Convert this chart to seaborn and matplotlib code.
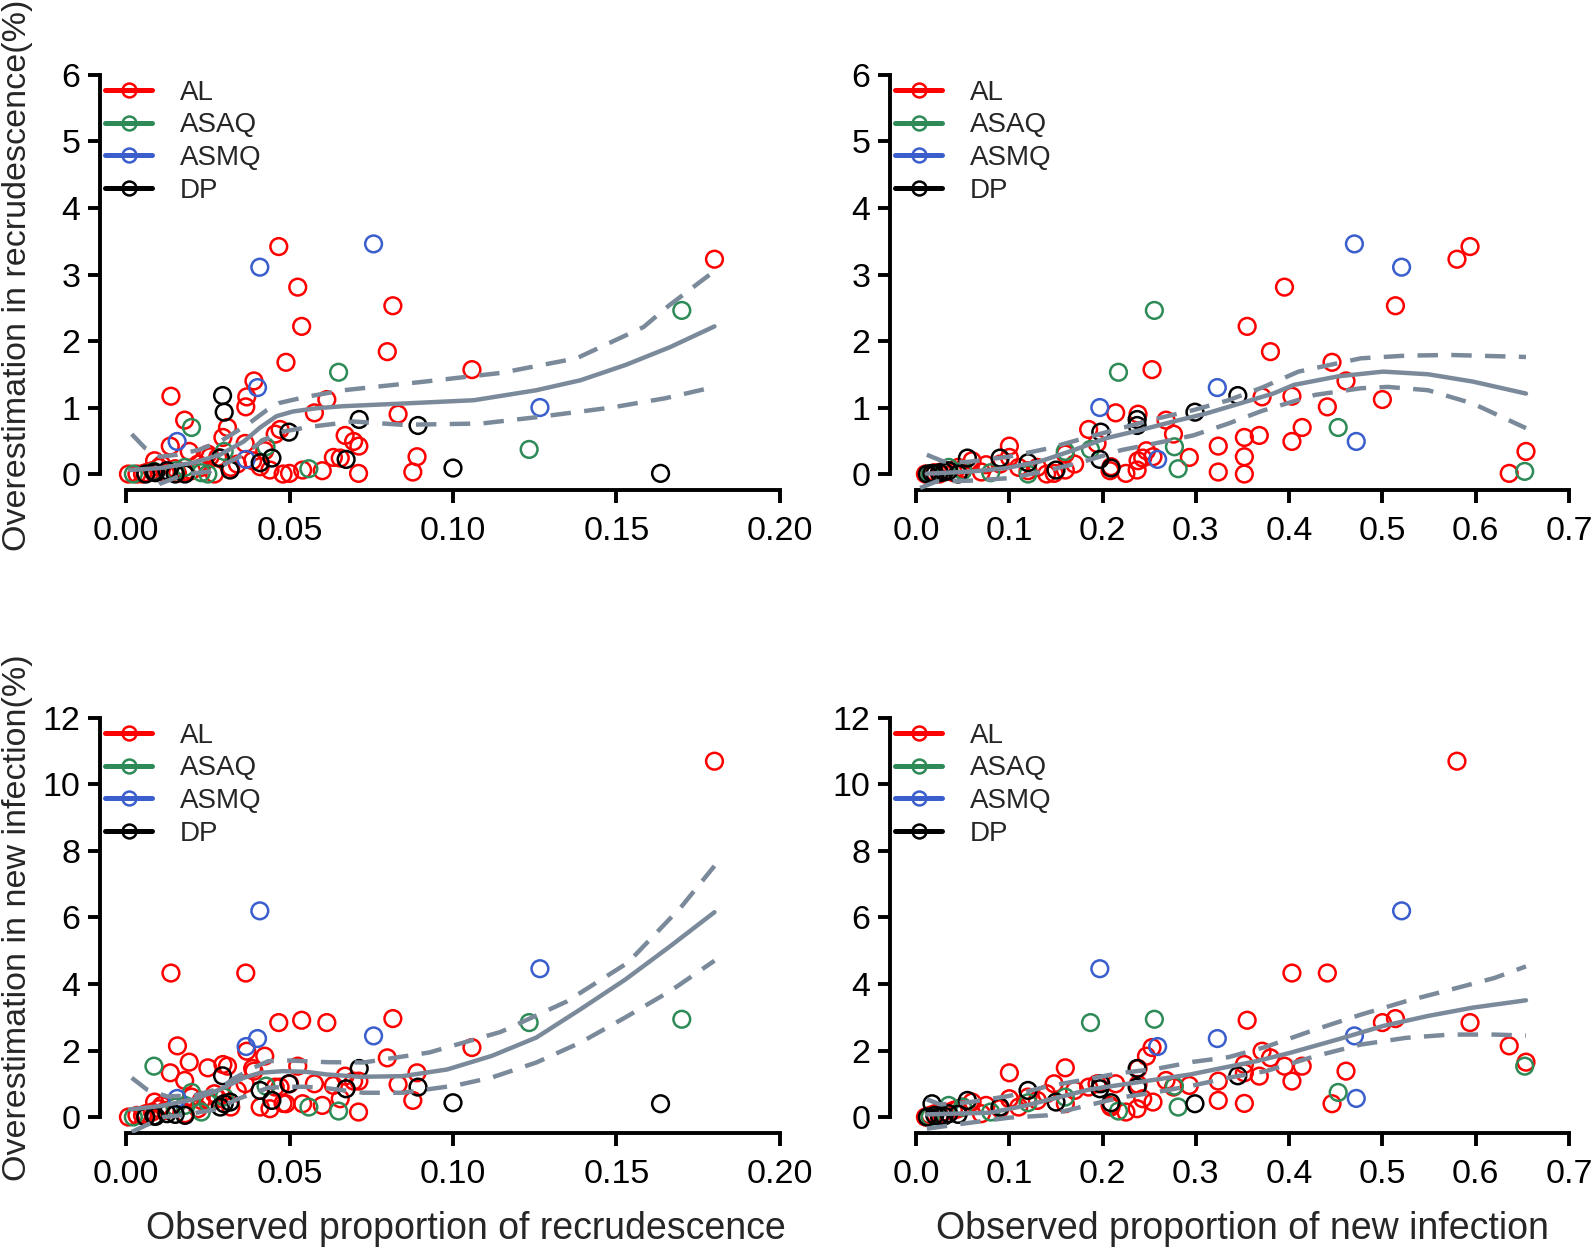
import numpy as np
import pandas as pd
import matplotlib
matplotlib.use("Agg")
import matplotlib.pyplot as plt
from matplotlib.lines import Line2D
import seaborn as sns

# ---------------- data: one entry per study ----------------
# rec = observed proportion of recrudescence, new = observed proportion of new infection
# orec / onew = overestimation (%) in recrudescence / new infection
drug_names = ["AL", "ASAQ", "ASMQ", "DP"]
drug_colors = ["#FF0000", "#2E8B57", "#3A5FCD", "#000000"]

al_rec = [0.180, 0.0467, 0.0525, 0.0816, 0.0537, 0.0799, 0.0489, 0.1058, 0.0391, 0.0137,
          0.0369, 0.0614, 0.0366, 0.0576, 0.0832, 0.0179, 0.0310, 0.0670, 0.0696, 0.0712,
          0.0890, 0.0877, 0.0711, 0.0157, 0.0193, 0.0296, 0.0456, 0.0471, 0.0135, 0.0364,
          0.0634, 0.0655, 0.0257, 0.0410, 0.0440, 0.0480, 0.0540, 0.0500, 0.0087, 0.0109,
          0.0007, 0.0033, 0.0060, 0.0200, 0.0230, 0.0270, 0.0320, 0.0080, 0.0120, 0.0150,
          0.0340, 0.0600, 0.0424, 0.0387, 0.0250, 0.0220, 0.0180, 0.0280, 0.0100, 0.0050]
al_new = [0.580, 0.594, 0.395, 0.514, 0.355, 0.380, 0.446, 0.253, 0.461, 0.403,
          0.371, 0.500, 0.441, 0.214, 0.238, 0.268, 0.414, 0.368, 0.403, 0.324,
          0.352, 0.324, 0.225, 0.636, 0.654, 0.352, 0.276, 0.185, 0.100, 0.194,
          0.293, 0.243, 0.254, 0.209, 0.237, 0.352, 0.160, 0.148, 0.060, 0.075,
          0.010, 0.015, 0.020, 0.120, 0.130, 0.140, 0.110, 0.030, 0.040, 0.050,
          0.170, 0.208, 0.247, 0.238, 0.160, 0.090, 0.070, 0.100, 0.045, 0.025]
al_orec = [3.23, 3.42, 2.81, 2.53, 2.22, 1.84, 1.68, 1.57, 1.40, 1.17,
           1.16, 1.12, 1.01, 0.92, 0.90, 0.81, 0.70, 0.58, 0.49, 0.42,
           0.26, 0.03, 0.01, 0.01, 0.34, 0.55, 0.60, 0.67, 0.42, 0.46,
           0.25, 0.24, 0.26, 0.11, 0.06, 0.00, 0.06, 0.01, 0.20, 0.14,
           0.00, 0.00, 0.02, 0.05, 0.10, 0.00, 0.10, 0.05, 0.02, 0.08,
           0.15, 0.05, 0.35, 0.20, 0.30, 0.15, 0.03, 0.25, 0.10, 0.00]
al_onew = [10.70, 2.84, 1.53, 2.96, 2.91, 1.78, 0.40, 2.09, 1.38, 4.33,
           1.98, 2.84, 4.33, 1.00, 0.98, 1.10, 1.53, 1.23, 1.08, 1.08,
           1.33, 0.50, 0.15, 2.14, 1.65, 1.58, 0.90, 0.90, 1.33, 1.00,
           0.95, 0.55, 0.45, 0.30, 0.25, 0.41, 0.40, 1.00, 0.45, 0.35,
           0.00, 0.05, 0.10, 0.60, 0.50, 0.70, 0.30, 0.15, 0.20, 0.30,
           0.80, 0.35, 1.83, 1.46, 1.48, 0.25, 0.10, 0.55, 0.25, 0.05]

asaq_rec = [0.170, 0.065, 0.020, 0.1233, 0.0428, 0.0559, 0.0085, 0.0300, 0.0022, 0.025, 0.023, 0.015, 0.018]
asaq_new = [0.2555, 0.217, 0.4526, 0.187, 0.277, 0.281, 0.6526, 0.160, 0.015, 0.120, 0.080, 0.050, 0.035]
asaq_orec = [2.46, 1.53, 0.70, 0.37, 0.41, 0.08, 0.04, 0.34, 0.00, 0.00, 0.02, 0.05, 0.10]
asaq_onew = [2.94, 0.18, 0.74, 2.84, 0.93, 0.30, 1.53, 0.60, 0.00, 0.43, 0.15, 0.30, 0.35]

asmq_rec = [0.0757, 0.0409, 0.0402, 0.1266, 0.0156, 0.0367]
asmq_new = [0.470, 0.5206, 0.323, 0.197, 0.472, 0.259]
asmq_orec = [3.46, 3.11, 1.30, 1.00, 0.49, 0.22]
asmq_onew = [2.44, 6.20, 2.36, 4.46, 0.56, 2.12]

dp_rec = [0.0295, 0.0300, 0.0713, 0.0893, 0.0498, 0.0673, 0.100, 0.1635, 0.0446,
          0.0410, 0.0318, 0.0288, 0.018, 0.006, 0.009, 0.0125, 0.015, 0.0085]
dp_new = [0.345, 0.299, 0.237, 0.237, 0.198, 0.197, 0.209, 0.017, 0.055,
          0.120, 0.150, 0.090, 0.020, 0.012, 0.025, 0.035, 0.045, 0.030]
dp_orec = [1.18, 0.93, 0.82, 0.73, 0.63, 0.22, 0.09, 0.01, 0.24,
           0.17, 0.06, 0.24, 0.00, 0.00, 0.02, 0.05, 0.00, 0.03]
dp_onew = [1.24, 0.40, 1.46, 0.90, 1.00, 0.85, 0.43, 0.40, 0.50,
           0.80, 0.45, 0.30, 0.05, 0.00, 0.02, 0.10, 0.08, 0.03]

# ---------------- fitted curves ----------------
# top left: recrudescence vs overestimation in recrudescence
tl_fit_x = [0.0012, 0.0104, 0.0206, 0.0287, 0.036, 0.041, 0.046, 0.051, 0.0583, 0.0665,
            0.0846, 0.1064, 0.1255, 0.139, 0.1528, 0.1665, 0.180]
tl_fit = [0.06, 0.09, 0.17, 0.29, 0.49, 0.70, 0.87, 0.94, 0.99, 1.02,
          1.06, 1.11, 1.26, 1.41, 1.64, 1.91, 2.22]
tl_hi_x = [0.0017, 0.0058, 0.0104, 0.0155, 0.022, 0.0288, 0.037, 0.043, 0.047, 0.055,
           0.0665, 0.0914, 0.1146, 0.1378, 0.1583, 0.166, 0.1767, 0.180]
tl_hi = [0.60, 0.39, 0.26, 0.29, 0.36, 0.49, 0.74, 0.96, 1.07, 1.16,
         1.26, 1.39, 1.52, 1.74, 2.21, 2.53, 2.93, 3.05]
tl_lo_x = [0.0017, 0.0104, 0.0175, 0.0257, 0.0359, 0.042, 0.0481, 0.0563, 0.0695,
           0.0846, 0.1088, 0.1265, 0.1485, 0.165, 0.180]
tl_lo = [-0.45, -0.145, -0.01, 0.04, 0.29, 0.51, 0.64, 0.71, 0.79,
         0.74, 0.76, 0.86, 1.00, 1.14, 1.31]

# top right: new infection vs overestimation in recrudescence
tr_fit_x = [0.0115, 0.061, 0.097, 0.133, 0.169, 0.204, 0.240, 0.276, 0.311, 0.347,
            0.383, 0.405, 0.453, 0.501, 0.549, 0.597, 0.654]
tr_fit = [0.005, 0.04, 0.09, 0.19, 0.36, 0.54, 0.66, 0.79, 0.91, 1.06,
          1.21, 1.34, 1.47, 1.54, 1.50, 1.39, 1.21]
tr_hi_x = [0.0115, 0.029, 0.054, 0.099, 0.140, 0.178, 0.257, 0.297, 0.335, 0.371,
           0.410, 0.477, 0.525, 0.573, 0.654]
tr_hi = [0.29, 0.19, 0.18, 0.26, 0.38, 0.53, 0.83, 0.96, 1.11, 1.30,
         1.54, 1.74, 1.78, 1.79, 1.76]
tr_lo_x = [0.0043, 0.022, 0.058, 0.102, 0.140, 0.178, 0.220, 0.256, 0.297, 0.335,
           0.371, 0.428, 0.477, 0.506, 0.549, 0.597, 0.654]
tr_lo = [-0.21, -0.11, -0.10, -0.06, 0.05, 0.18, 0.36, 0.46, 0.58, 0.76,
         0.95, 1.19, 1.29, 1.31, 1.26, 1.06, 0.69]

# bottom left: recrudescence vs overestimation in new infection
bl_fit_x = [0.0012, 0.0104, 0.0206, 0.0287, 0.036, 0.041, 0.048, 0.055, 0.0614, 0.0716,
            0.0846, 0.0982, 0.1119, 0.1255, 0.139, 0.1528, 0.1665, 0.180]
bl_fit = [0.23, 0.33, 0.53, 0.83, 1.18, 1.33, 1.38, 1.36, 1.28, 1.21,
          1.23, 1.43, 1.84, 2.39, 3.24, 4.14, 5.14, 6.16]
bl_hi_x = [0.0017, 0.0063, 0.0125, 0.021, 0.0287, 0.0328, 0.0389, 0.0435, 0.050,
           0.0614, 0.0726, 0.0927, 0.1146, 0.1347, 0.1535, 0.170, 0.180]
bl_hi = [1.18, 0.83, 0.62, 0.65, 0.86, 1.15, 1.48, 1.68, 1.70,
         1.65, 1.64, 1.94, 2.56, 3.47, 4.64, 6.34, 7.55]
bl_lo_x = [0.0017, 0.0114, 0.0165, 0.0277, 0.0338, 0.0379, 0.0435, 0.049, 0.0542, 0.0603,
           0.0726, 0.0846, 0.1009, 0.1119, 0.1255, 0.139, 0.1528, 0.1665, 0.180]
bl_lo = [-0.45, 0.0, 0.05, 0.23, 0.53, 0.68, 0.88, 0.91, 0.91, 0.88,
         0.73, 0.73, 0.95, 1.19, 1.64, 2.24, 3.00, 3.79, 4.70]

# bottom right: new infection vs overestimation in new infection
br_fit_x = [0.0115, 0.079, 0.115, 0.151, 0.186, 0.222, 0.258, 0.294, 0.329, 0.365,
            0.401, 0.453, 0.501, 0.549, 0.597, 0.654]
br_fit = [0.08, 0.13, 0.33, 0.58, 0.83, 0.98, 1.13, 1.28, 1.48, 1.68,
          1.93, 2.34, 2.74, 3.04, 3.29, 3.51]
br_hi_x = [0.0115, 0.026, 0.058, 0.099, 0.142, 0.178, 0.218, 0.258, 0.297, 0.335,
           0.375, 0.428, 0.477, 0.525, 0.573, 0.62, 0.654]
br_hi = [0.53, 0.38, 0.45, 0.63, 0.93, 1.11, 1.32, 1.45, 1.66, 1.80,
         2.11, 2.63, 3.08, 3.48, 3.83, 4.18, 4.53]
br_lo_x = [0.0115, 0.05, 0.0995, 0.140, 0.178, 0.218, 0.258, 0.297, 0.335, 0.375,
           0.428, 0.477, 0.525, 0.573, 0.62, 0.654]
br_lo = [-0.35, -0.20, -0.02, 0.05, 0.31, 0.58, 0.75, 0.95, 1.18, 1.38,
         1.83, 2.18, 2.38, 2.48, 2.48, 2.45]

# ticks
rec_ticks = [0.00, 0.05, 0.10, 0.15, 0.20]
new_ticks = [0.0, 0.1, 0.2, 0.3, 0.4, 0.5, 0.6, 0.7]
orec_ticks = [0, 1, 2, 3, 4, 5, 6]
onew_ticks = [0, 2, 4, 6, 8, 10, 12]

# ---------------- build the long table ----------------
frames = []
for name, rec, new, orec, onew in zip(
        drug_names,
        [al_rec, asaq_rec, asmq_rec, dp_rec],
        [al_new, asaq_new, asmq_new, dp_new],
        [al_orec, asaq_orec, asmq_orec, dp_orec],
        [al_onew, asaq_onew, asmq_onew, dp_onew]):
    frames.append(pd.DataFrame({"drug": name, "rec": rec, "new": new,
                                "orec": orec, "onew": onew}))
df = pd.concat(frames, ignore_index=True)

sns.set_theme(style="white")
plt.rcParams["font.family"] = ["Liberation Sans", "DejaVu Sans"]

W, H = 1595, 1251
fig = plt.figure(figsize=(W / 100, H / 100), dpi=100)

fit_color = "#7B8A9B"


def px_axes(left, top, width, height):
    return fig.add_axes([left / W, 1 - (top + height) / H, width / W, height / H])


panels = [
    # axes box, x col, y col, x ticks, y ticks, x fmt, curves
    ((100, 59, 706, 431), "rec", "orec", rec_ticks, orec_ticks, "%.2f",
     (tl_fit_x, tl_fit, tl_hi_x, tl_hi, tl_lo_x, tl_lo)),
    ((890, 59, 705, 431), "new", "orec", new_ticks, orec_ticks, "%.1f",
     (tr_fit_x, tr_fit, tr_hi_x, tr_hi, tr_lo_x, tr_lo)),
    ((100, 702, 706, 431), "rec", "onew", rec_ticks, onew_ticks, "%.2f",
     (bl_fit_x, bl_fit, bl_hi_x, bl_hi, bl_lo_x, bl_lo)),
    ((890, 702, 705, 431), "new", "onew", new_ticks, onew_ticks, "%.1f",
     (br_fit_x, br_fit, br_hi_x, br_hi, br_lo_x, br_lo)),
]

for box, xcol, ycol, xt, yt, fmt, curves in panels:
    ax = px_axes(*box)
    xr = xt[-1] - xt[0]
    yr = yt[-1] - yt[0]
    ax.set_xlim(xt[0] - 0.04 * xr, xt[-1] + 0.04 * xr)
    ax.set_ylim(yt[0] - 0.04 * yr, yt[-1] + 0.04 * yr)

    sns.scatterplot(data=df, x=xcol, y=ycol, hue="drug", hue_order=drug_names,
                    palette=dict(zip(drug_names, drug_colors)), s=145,
                    legend=False, ax=ax, zorder=2)
    coll = ax.collections[-1]
    coll.set_edgecolors(coll.get_facecolors())
    coll.set_facecolors("none")
    coll.set_linewidth(1.8)

    fx, fy, hx, hy, lx, ly = curves
    sns.lineplot(x=fx, y=fy, ax=ax, color=fit_color, lw=3.2, sort=False,
                 estimator=None, zorder=3)
    ax.lines[-1].set_solid_capstyle("round")
    for cx, cy in [(hx, hy), (lx, ly)]:
        sns.lineplot(x=cx, y=cy, ax=ax, color=fit_color, lw=3.2, sort=False,
                     estimator=None, zorder=3)
        ax.lines[-1].set_dashes([4.6, 3.0])

    ax.set_xticks(xt)
    ax.set_xticklabels([fmt % v for v in xt])
    ax.set_yticks(yt)
    ax.set_yticklabels([str(v) for v in yt])
    ax.set_xlabel("")
    ax.set_ylabel("")
    for s in ["top", "right"]:
        ax.spines[s].set_visible(False)
    ax.spines["left"].set_bounds(yt[0], yt[-1])
    ax.spines["bottom"].set_bounds(xt[0], xt[-1])
    for s in ["left", "bottom"]:
        ax.spines[s].set_linewidth(2.8)
        ax.spines[s].set_color("black")
        ax.spines[s].set_capstyle("projecting")
    ax.tick_params(axis="both", direction="out", length=9, width=2.8,
                   labelsize=24.5, colors="black", bottom=True, left=True)
    ax.tick_params(axis="x", pad=9.5)
    ax.tick_params(axis="y", pad=5)
    ax.patch.set_alpha(0)
    ax.grid(False)

    handles = [Line2D([0], [0], color=c, lw=3.6, marker="o", ms=10,
                      mfc="none", mew=1.8) for c in drug_colors]
    ax.legend(handles, drug_names, loc="upper left", bbox_to_anchor=(0.007, 0.952),
              frameon=False, fontsize=20, handlelength=1.7, handletextpad=1.0,
              labelspacing=0.24, borderpad=0, borderaxespad=0)

fig.text(18 / W, 1 - 275 / H, "Overestimation in recrudescence(%)", rotation=90,
         ha="center", va="center", fontsize=24.5)
fig.text(18 / W, 1 - 918 / H, "Overestimation in new infection(%)", rotation=90,
         ha="center", va="center", fontsize=24.5)
fig.text(466 / W, 1 - 1229 / H, "Observed proportion of recrudescence",
         ha="center", va="center", fontsize=27)
fig.text(1242 / W, 1 - 1229 / H, "Observed proportion of new infection",
         ha="center", va="center", fontsize=27)

fig.savefig("out.png", dpi=100)
